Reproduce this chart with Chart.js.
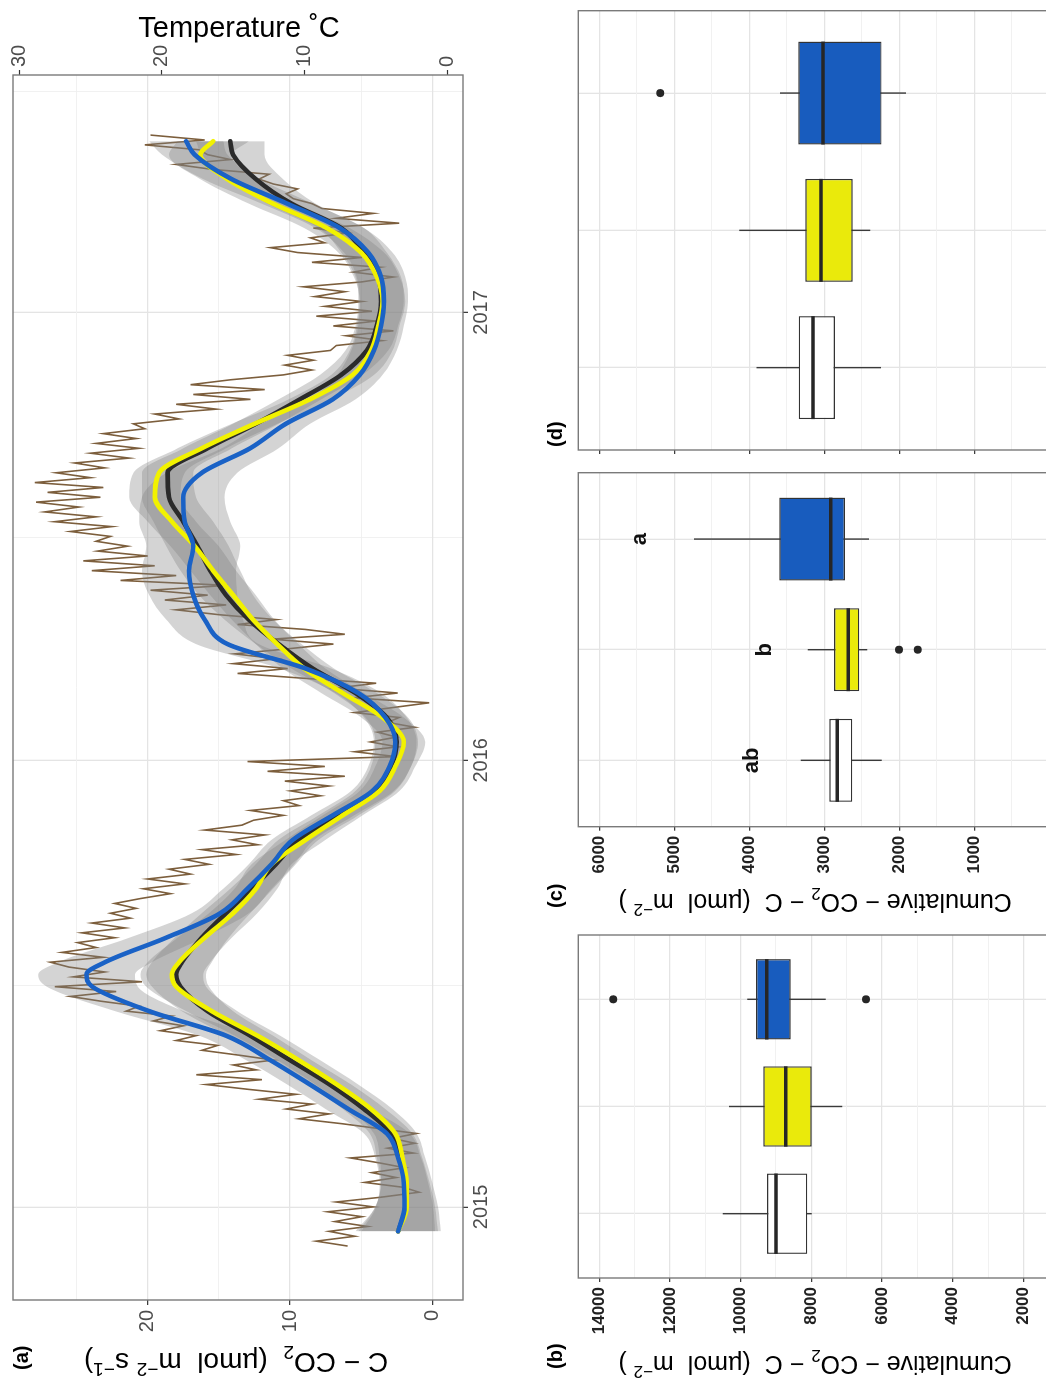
<!DOCTYPE html>
<html>
<head>
<meta charset="utf-8">
<script src="https://cdn.jsdelivr.net/npm/chart.js@4.4.1/dist/chart.umd.min.js"></script>
<style>
  html, body { margin: 0; padding: 0; background: #fff; }
  body { width: 1046px; height: 1380px; overflow: hidden; position: relative;
         font-family: 'Liberation Sans', Arial, Helvetica, sans-serif; }
  /* the figure is laid out landscape and turned a quarter turn */
  #fig { position: absolute; left: 0; top: 0; width: 1380px; height: 1100px;
         transform-origin: 0 0; transform: translate(0px, 1380px) rotate(-90deg); }
  #fig canvas { position: absolute; }
  .txt { position: absolute; white-space: nowrap; color: #000; line-height: 1; }
  .tag { font-weight: bold; font-size: 20px; }
  .ttl { transform: translate(-50%, -50%) rotate(-90deg); }
  .ttlR { transform: translate(-50%, -50%) rotate(90deg); }
  sub, sup { font-size: 0.68em; line-height: 0; }
</style>
</head>
<body>
<div id="fig">
  <canvas id="pa" width="1380" height="540" style="left:0;top:0;width:1380px;height:540px;"></canvas>
  <canvas id="pb" width="460" height="560" style="left:0;top:540px;width:460px;height:560px;"></canvas>
  <canvas id="pc" width="460" height="560" style="left:460px;top:540px;width:460px;height:560px;"></canvas>
  <canvas id="pd" width="460" height="560" style="left:920px;top:540px;width:460px;height:560px;"></canvas>

  <div class="txt tag" style="left:10px;top:11px;">(a)</div>
  <div class="txt ttl" style="left:18px;top:236px;font-size:28px;">C − CO<sub>2</sub>&nbsp; (µmol&nbsp; m<sup>−2</sup> s<sup>−1</sup>)</div>
  <div class="txt ttlR" style="left:1353px;top:239px;font-size:29px;">Temperature ˚C</div>

  <div class="txt tag" style="left:11px;top:545px;">(b)</div>
  <div class="txt ttl" style="left:15px;top:815px;font-size:25px;">Cumulative − CO<sub>2</sub> − C&nbsp; (µmol&nbsp; m<sup>−2</sup>&nbsp;)</div>

  <div class="txt tag" style="left:472px;top:545px;">(c)</div>
  <div class="txt ttl" style="left:477px;top:815px;font-size:25px;">Cumulative − CO<sub>2</sub> − C&nbsp; (µmol&nbsp; m<sup>−2</sup>&nbsp;)</div>

  <div class="txt tag" style="left:933px;top:545px;">(d)</div>
</div>

<script>
// ---------- (a) daily temperature and smoothed soil CO2 efflux ----------
// time axis: days since 1 Jan 2015
const yearTickDays = [0, 365, 731];
const yearTickLabels = ['2015', '2016', '2017'];
const yearMinorDays = [181, 547, 912];

const fluxTicks = [0, 10, 20];
const fluxMinorTicks = [5, 15, 25];
const tempTicks = [0, 10, 20, 30];

// air temperature, one reading every 4 days from day -32
const tempStartDay = -32;
const tempStepDays = 4;
const temperature = [
  7.0, 9.2, 6.5, 8.3, 5.6, 7.9, 6.0, 8.4, 5.2, 7.8, 4.6, 2.0, 3.1, 5.8, 3.6, 5.3,
  3.0, 4.8, 6.8, 2.4, 4.2, 2.3, 3.9, 2.2, 4.8, 7.4, 10.4, 8.3, 11.3, 9.5, 13.2, 10.6,
  13.9, 16.9, 13.0, 17.6, 13.4, 15.0, 12.2, 14.6, 17.2, 16.1, 19.0, 17.6, 20.1, 18.5, 20.6, 19.3,
  22.5, 21.6, 24.2, 26.4, 23.2, 27.5, 21.4, 26.2, 24.0, 26.5, 27.8, 24.1, 27.0, 24.6, 25.9, 23.3,
  25.6, 22.6, 24.9, 22.2, 23.6, 21.8, 23.3, 21.5, 19.4, 21.3, 18.4, 21.0, 18.0, 19.5, 16.7, 18.4,
  14.8, 17.2, 13.3, 15.1, 12.8, 17.0, 14.4, 13.6, 11.5, 13.8, 10.4, 11.5, 8.9, 11.0, 8.3, 11.4,
  7.2, 12.6, 8.6, 14.0, 3.6, 6.5, 3.5, 5.4, 3.6, 4.9, 2.3, 4.2, 3.4, 6.5, 3.9, 1.3,
  6.6, 3.5, 7.8, 5.0, 10.0, 14.7, 11.2, 15.0, 12.0, 14.9, 11.3, 8.0, 12.3, 7.2, 10.0, 14.7,
  12.0, 16.0, 19.0, 15.5, 19.8, 16.8, 20.8, 15.4, 22.9, 19.0, 24.9, 20.5, 25.5, 21.0, 24.5, 22.4,
  24.6, 23.6, 26.4, 23.5, 27.5, 24.6, 28.2, 25.8, 28.8, 24.3, 28.0, 24.1, 28.9, 25.0, 27.4, 24.0,
  26.1, 22.3, 25.0, 21.6, 24.6, 21.8, 24.1, 21.2, 22.0, 18.8, 20.5, 16.2, 19.0, 13.8, 17.8, 12.8,
  18.0, 15.2, 11.5, 9.5, 11.4, 9.4, 11.2, 8.2, 7.8, 4.6, 7.1, 3.8, 8.0, 5.0, 9.2, 5.3,
  8.6, 6.0, 9.3, 7.2, 10.1, 6.0, 3.8, 6.6, 4.7, 9.5, 6.0, 10.5, 12.4, 8.6, 9.6, 7.0,
  9.4, 3.4, 7.8, 5.2, 8.8, 9.5, 10.8, 11.3, 10.5, 12.2, 13.2, 12.5, 16.5, 19.0, 15.2, 16.8,
  17.4, 21.2, 17.0, 20.8
];

// smoothed efflux curves (µmol m-2 s-1) and their standard-error half widths
const smoothDays = [-20, 0, 20, 40, 60, 80, 100, 120, 140, 160, 180, 190, 200, 220, 240, 260, 280,
  300, 320, 340, 360, 380, 400, 420, 440, 460, 480, 500, 520, 540, 560, 580, 600, 620, 640, 660,
  680, 700, 720, 740, 760, 780, 800, 820, 840, 860, 871];
const fluxBlack = [2.4, 1.9, 1.9, 2.3, 2.9, 4.8, 7.2, 10.0, 12.8, 15.8, 17.7, 18.0, 17.6, 16.2, 14.5,
  12.7, 11.0, 9.4, 6.6, 4.0, 2.9, 2.5, 3.2, 5.4, 8.4, 10.8, 12.9, 14.5, 15.6, 16.5, 17.5, 18.5, 18.6,
  15.8, 12.4, 9.3, 6.4, 4.6, 3.9, 3.6, 3.8, 4.8, 6.4, 9.9, 12.4, 14.0, 14.2];
const fluxYellow = [2.4, 1.8, 1.8, 2.1, 2.6, 4.3, 6.7, 9.4, 12.3, 15.5, 18.0, 18.3, 17.8, 16.0, 14.0,
  12.4, 11.3, 8.9, 6.3, 3.7, 2.6, 2.0, 3.5, 6.3, 9.0, 10.9, 12.6, 14.0, 15.4, 16.7, 18.3, 19.5, 19.2,
  16.2, 12.5, 8.6, 5.6, 4.3, 3.8, 3.5, 3.9, 5.0, 7.4, 11.2, 14.4, 16.3, 15.4];
const fluxBlue = [2.4, 1.95, 2.0, 2.4, 3.2, 5.9, 8.6, 11.4, 14.5, 19.9, 23.9, 24.3, 23.0, 18.7, 14.9,
  13.0, 11.3, 9.8, 7.0, 4.2, 3.0, 2.6, 3.3, 5.2, 8.9, 14.4, 16.0, 16.8, 17.1, 16.8, 17.4, 17.5, 16.2,
  12.8, 10.3, 7.0, 5.1, 4.1, 3.6, 3.4, 3.6, 4.5, 6.5, 10.2, 14.1, 16.7, 17.3];
const seBlack = [2.8, 2.1, 1.7, 1.6, 1.5, 1.5, 1.5, 1.5, 1.6, 1.8, 2.0, 2.1, 2.1, 1.9, 1.7, 1.5, 1.4,
  1.4, 1.4, 1.4, 1.4, 1.5, 1.5, 1.5, 1.5, 1.6, 1.7, 1.9, 2.1, 2.2, 2.1, 1.9, 1.8, 1.7, 1.6, 1.5, 1.5,
  1.5, 1.5, 1.6, 1.6, 1.6, 1.6, 1.7, 1.9, 2.2, 2.4];
const seYellow = [3.0, 2.2, 1.8, 1.6, 1.5, 1.5, 1.5, 1.5, 1.6, 1.8, 2.1, 2.2, 2.2, 1.9, 1.7, 1.5, 1.4,
  1.4, 1.4, 1.4, 1.4, 1.5, 1.5, 1.5, 1.5, 1.5, 1.5, 1.6, 1.6, 1.7, 1.7, 1.8, 1.8, 1.7, 1.6, 1.5, 1.5,
  1.5, 1.5, 1.6, 1.6, 1.6, 1.6, 1.7, 1.9, 2.2, 2.5];
const seBlue = [2.6, 2.0, 1.7, 1.6, 1.6, 1.6, 1.6, 1.7, 1.9, 2.4, 3.2, 3.4, 3.3, 2.6, 2.0, 1.7, 1.6,
  1.5, 1.5, 1.5, 1.5, 1.5, 1.5, 1.6, 1.8, 2.2, 2.7, 3.1, 3.3, 3.3, 3.2, 2.9, 2.5, 2.0, 1.7, 1.6, 1.6,
  1.6, 1.6, 1.7, 1.7, 1.7, 1.7, 1.8, 2.0, 2.3, 2.6];

// ---------- (b)-(d) cumulative C-CO2 per treatment (box plots) ----------
const boxCats = [1, 2, 3];
const boxFill = ['#ffffff', '#eaea0b', '#185cbe'];

const bLow = [7990, 7122, 7592];
const bQ1 = [8112, 7988, 8583];
const bMed = [8999, 8724, 9262];
const bQ3 = [9253, 9358, 9565];
const bHigh = [10508, 10329, 9811];
const bOut = [[], [], [13604, 6451]];
const bTicks = [1000, 2000, 3000, 4000, 5000, 6000, 7000, 8000, 9000, 10000, 11000, 12000, 13000, 14000];
const bLabels = [2000, 4000, 6000, 8000, 10000, 12000, 14000];

const cLow = [2235, 2427, 2404];
const cQ1 = [2627, 2533, 2724];
const cMed = [2827, 2680, 2915];
const cQ3 = [2933, 2871, 3600];
const cHigh = [3315, 3222, 4737];
const cOut = [[], [2004, 1755], []];
const cLetters = ['ab', 'b', 'a'];
const cLetterAt = [3964, 3791, 5457];

const dLow = [2244, 2387, 1911];
const dQ1 = [2858, 2622, 2236];
const dMed = [3151, 3044, 3018];
const dQ3 = [3342, 3253, 3347];
const dHigh = [3903, 4133, 3591];
const dOut = [[], [], [5187]];

const cdTicks = [500, 1000, 1500, 2000, 2500, 3000, 3500, 4000, 4500, 5000, 5500, 6000];
const cdLabels = [1000, 2000, 3000, 4000, 5000, 6000];

// ---------- shared styling ----------
const FONT = "'Liberation Sans', Arial, Helvetica, sans-serif";
Chart.defaults.font.family = FONT;
Chart.defaults.animation = false;
Chart.defaults.plugins.legend.display = false;
Chart.defaults.plugins.tooltip.enabled = false;

const GRID_MAJOR = '#e4e4e4';
const GRID_MINOR = '#efefef';
const TICK_COL = '#333333';
const CLEAR = 'rgba(0,0,0,0)';

function fixWidth(w) {
  return function (scale) {
    scale.width = w;
    scale.paddingTop = 0; scale.paddingBottom = 0; scale.paddingLeft = 0; scale.paddingRight = 0;
  };
}
function fixHeight(h) {
  return function (scale) {
    scale.height = h;
    scale.paddingTop = 0; scale.paddingBottom = 0; scale.paddingLeft = 0; scale.paddingRight = 0;
  };
}
function setTicks(values) {
  return function (scale) { scale.ticks = values.slice().sort((a, b) => a - b).map(v => ({ value: v })); };
}

const panelBorder = {
  id: 'panelBorder',
  afterDatasetsDraw(chart) {
    const { ctx, chartArea: a } = chart;
    ctx.save();
    ctx.strokeStyle = '#7a7a7a';
    ctx.lineWidth = 1.4;
    ctx.strokeRect(a.left, a.top, a.right - a.left, a.bottom - a.top);
    ctx.restore();
  }
};

// ---------- panel (a) ----------
function pts(xs, ys) { return xs.map((x, i) => ({ x: x, y: ys[i] })); }
function band(ys, se, sign) { return smoothDays.map((x, i) => ({ x: x, y: ys[i] + sign * se[i] })); }

const BAND = 'rgba(128,128,128,0.34)';
const tempPoints = temperature.map((t, i) => ({ x: tempStartDay + i * tempStepDays, y: t }));

function bandPair(ys, se) {
  return [
    { type: 'line', data: band(ys, se, -1), borderWidth: 0, pointRadius: 0, fill: false,
      cubicInterpolationMode: 'monotone', order: 5, yAxisID: 'y' },
    { type: 'line', data: band(ys, se, 1), borderWidth: 0, pointRadius: 0, fill: '-1',
      backgroundColor: BAND, cubicInterpolationMode: 'monotone', order: 5, yAxisID: 'y' }
  ];
}
function smoothLine(ys, color, order) {
  return { type: 'line', data: pts(smoothDays, ys), borderColor: color, borderWidth: 4.6,
    pointRadius: 0, fill: false, cubicInterpolationMode: 'monotone', order: order, yAxisID: 'y',
    borderCapStyle: 'round', borderJoinStyle: 'round' };
}

new Chart(document.getElementById('pa'), {
  type: 'line',
  data: {
    datasets: [
      ...bandPair(fluxBlack, seBlack),
      ...bandPair(fluxYellow, seYellow),
      ...bandPair(fluxBlue, seBlue),
      { type: 'line', data: tempPoints, borderColor: '#7c5e3c', borderWidth: 1.6, pointRadius: 0,
        tension: 0, fill: false, order: 10, yAxisID: 'y2' },
      smoothLine(fluxBlack, '#2b2b2b', 3),
      smoothLine(fluxYellow, '#f2f200', 2),
      smoothLine(fluxBlue, '#1a62c6', 1)
    ]
  },
  options: {
    responsive: false,
    devicePixelRatio: 1,
    layout: { padding: { top: 13, left: 0, right: 0, bottom: 0 } },
    scales: {
      x: {
        type: 'linear', position: 'bottom', min: -76.1, max: 925.1,
        afterBuildTicks: setTicks(yearTickDays.concat(yearMinorDays)),
        afterFit: fixHeight(77),
        border: { display: false },
        grid: {
          color: c => yearTickDays.includes(c.tick.value) ? GRID_MAJOR : GRID_MINOR,
          lineWidth: c => yearTickDays.includes(c.tick.value) ? 1.3 : 0.9,
          tickColor: c => yearTickDays.includes(c.tick.value) ? TICK_COL : CLEAR,
          tickLength: 5, tickWidth: 1.2
        },
        ticks: {
          autoSkip: false, maxRotation: 0, padding: 1,
          font: { size: 20 }, color: '#4d4d4d',
          callback: v => { const k = yearTickDays.indexOf(v); return k >= 0 ? yearTickLabels[k] : ''; }
        }
      },
      y: {
        type: 'linear', position: 'left', min: -2.16, max: 29.47,
        afterBuildTicks: setTicks(fluxTicks.concat(fluxMinorTicks)),
        afterFit: fixWidth(80),
        border: { display: false },
        grid: {
          color: c => fluxTicks.includes(c.tick.value) ? GRID_MAJOR : GRID_MINOR,
          lineWidth: c => fluxTicks.includes(c.tick.value) ? 1.3 : 0.9,
          tickColor: c => fluxTicks.includes(c.tick.value) ? TICK_COL : CLEAR,
          tickLength: 5, tickWidth: 1.2
        },
        ticks: {
          autoSkip: false, padding: 5, font: { size: 20 }, color: '#4d4d4d',
          callback: v => fluxTicks.includes(v) ? String(v) : ''
        }
      },
      y2: {
        type: 'linear', position: 'right', min: -1.07, max: 30.42,
        afterBuildTicks: setTicks(tempTicks),
        afterFit: fixWidth(75),
        border: { display: false },
        grid: { drawOnChartArea: false, tickColor: TICK_COL, tickLength: 5, tickWidth: 1.2 },
        ticks: { autoSkip: false, padding: 3, font: { size: 20 }, color: '#4d4d4d',
          callback: v => String(v) }
      }
    }
  },
  plugins: [panelBorder]
});

// ---------- box-plot panels ----------
const HALF_BOX = 0.375;

function boxDatasets(low, q1, med, q3, high, outs) {
  const sets = [];
  boxCats.forEach((c, i) => {
    sets.push({ type: 'line', data: [{ x: c, y: low[i] }, { x: c, y: high[i] }],
      borderColor: '#3a3a3a', borderWidth: 1.4, pointRadius: 0, fill: false, order: 4 });
  });
  sets.push({ type: 'bar', data: boxCats.map((c, i) => ({ x: c, y: [q1[i], q3[i]] })),
    backgroundColor: boxFill, borderColor: '#333333', borderWidth: 1.4, borderSkipped: false,
    barPercentage: 0.75, categoryPercentage: 1, order: 3 });
  boxCats.forEach((c, i) => {
    sets.push({ type: 'line', data: [{ x: c - HALF_BOX, y: med[i] }, { x: c + HALF_BOX, y: med[i] }],
      borderColor: '#262626', borderWidth: 3.4, pointRadius: 0, fill: false, order: 2 });
  });
  const outPts = [];
  boxCats.forEach((c, i) => outs[i].forEach(v => outPts.push({ x: c, y: v })));
  sets.push({ type: 'scatter', data: outPts, pointRadius: 4, backgroundColor: '#262626',
    borderWidth: 0, order: 1 });
  return sets;
}

function boxChart(id, datasets, cfg, extraPlugins) {
  return new Chart(document.getElementById(id), {
    type: 'scatter',
    data: { datasets: datasets },
    options: {
      responsive: false,
      devicePixelRatio: 1,
      layout: { padding: { top: 38.3, right: cfg.padRight, left: 0, bottom: 0 } },
      scales: {
        x: {
          type: 'linear', position: 'bottom', min: 0.4, max: 3.6, offset: false,
          afterBuildTicks: setTicks(boxCats),
          afterFit: fixHeight(30),
          border: { display: false },
          grid: { offset: false, color: GRID_MAJOR, lineWidth: 1.3, drawTicks: false },
          ticks: { display: false }
        },
        y: {
          type: 'linear', position: 'left', min: cfg.min, max: cfg.max,
          afterBuildTicks: setTicks(cfg.ticks),
          afterFit: fixWidth(cfg.axisWidth),
          border: { display: false },
          grid: {
            color: c => cfg.labels.includes(c.tick.value) ? GRID_MAJOR : GRID_MINOR,
            lineWidth: c => cfg.labels.includes(c.tick.value) ? 1.3 : 0.9,
            tickColor: c => cfg.labels.includes(c.tick.value) ? TICK_COL : CLEAR,
            tickLength: 4, tickWidth: 1.2
          },
          ticks: {
            autoSkip: false, padding: 5, color: '#222222',
            font: { size: 17, weight: 'bold' },
            callback: v => (cfg.showLabels && cfg.labels.includes(v)) ? String(v) : ''
          }
        }
      }
    },
    plugins: [panelBorder].concat(extraPlugins || [])
  });
}

// group letters above the boxes in (c)
const groupLetters = {
  id: 'groupLetters',
  afterDatasetsDraw(chart) {
    const { ctx, scales } = chart;
    ctx.save();
    ctx.font = 'bold 22px ' + FONT;
    ctx.fillStyle = '#111111';
    ctx.textAlign = 'center';
    ctx.textBaseline = 'middle';
    cLetters.forEach((t, i) => {
      ctx.fillText(t, scales.x.getPixelForValue(boxCats[i]), scales.y.getPixelForValue(cLetterAt[i]));
    });
    ctx.restore();
  }
};

boxChart('pb', boxDatasets(bLow, bQ1, bMed, bQ3, bHigh, bOut),
  { min: 680, max: 14594, ticks: bTicks, labels: bLabels, axisWidth: 102, padRight: 15, showLabels: true });
boxChart('pc', boxDatasets(cLow, cQ1, cMed, cQ3, cHigh, cOut),
  { min: -276, max: 6280, ticks: cdTicks, labels: cdLabels, axisWidth: 93.3, padRight: 12.7, showLabels: true },
  [groupLetters]);
boxChart('pd', boxDatasets(dLow, dQ1, dMed, dQ3, dHigh, dOut),
  { min: -276, max: 6280, ticks: cdTicks, labels: cdLabels, axisWidth: 10, padRight: 10.7, showLabels: false });
</script>
</body>
</html>
